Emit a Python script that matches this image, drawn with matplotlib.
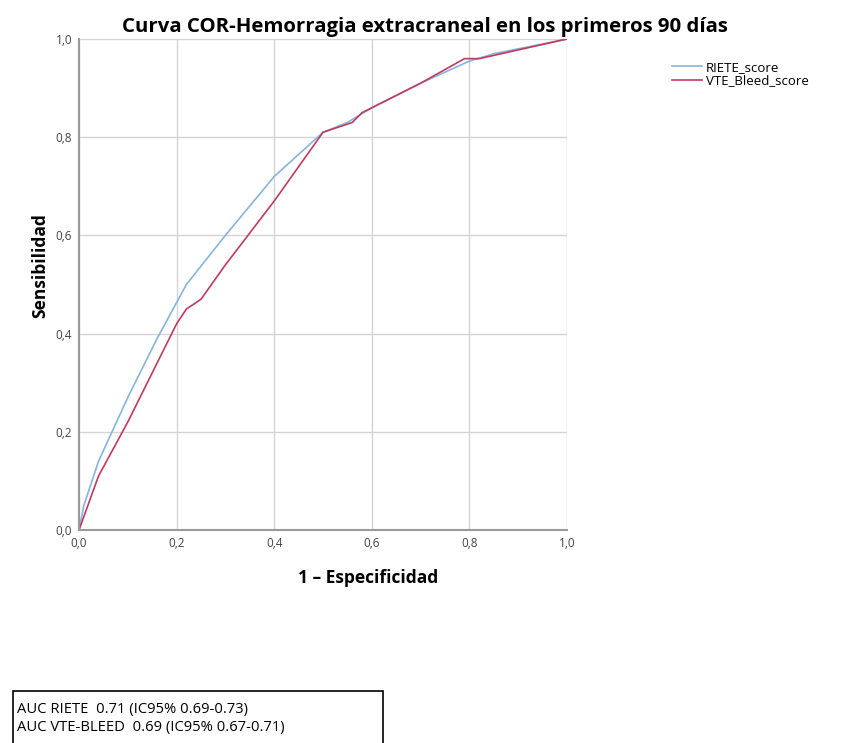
import numpy as np
import matplotlib.pyplot as plt
from matplotlib.patches import Rectangle

plt.rcParams['font.family'] = ['Open Sans', 'DejaVu Sans']

riete_x = [0.0, 0.01, 0.04, 0.10, 0.16, 0.22, 0.30, 0.40, 0.50, 0.55, 0.60, 0.70, 0.80, 0.85, 1.0]
riete_y = [0.0, 0.05, 0.14, 0.27, 0.39, 0.50, 0.60, 0.72, 0.81, 0.83, 0.86, 0.91, 0.955, 0.97, 1.0]

vte_x = [0.0, 0.04, 0.10, 0.20, 0.22, 0.25, 0.30, 0.40, 0.50, 0.56, 0.58, 0.70, 0.79, 0.82, 1.0]
vte_y = [0.0, 0.11, 0.22, 0.42, 0.45, 0.47, 0.54, 0.67, 0.81, 0.83, 0.85, 0.91, 0.96, 0.96, 1.0]

ticks = [0.0, 0.2, 0.4, 0.6, 0.8, 1.0]
tick_labels = ['0,0', '0,2', '0,4', '0,6', '0,8', '1,0']

fig = plt.figure(figsize=(8.56, 7.43), dpi=100)
ax = fig.add_axes([0.0923, 0.2867, 0.5701, 0.6608])

ax.plot(riete_x, riete_y, color='#86b4e0', lw=1.2, label='RIETE_score')
ax.plot(vte_x, vte_y, color='#c23a5e', lw=1.2, label='VTE_Bleed_score')

ax.set_xlim(0, 1)
ax.set_ylim(0, 1)
ax.set_xticks(ticks)
ax.set_xticklabels(tick_labels)
ax.set_yticks(ticks)
ax.set_yticklabels(tick_labels)
ax.tick_params(length=0, labelsize=8.5, colors='#444444', pad=5)
ax.grid(True, color='#d4d4d4', lw=1)
ax.set_axisbelow(True)
for s in ['top', 'right']:
    ax.spines[s].set_visible(False)
for s in ['left', 'bottom']:
    ax.spines[s].set_color('#9a9a9a')
    ax.spines[s].set_linewidth(1.5)

fig.text(0.497, 1 - 27 / 743, 'Curva COR-Hemorragia extracraneal en los primeros 90 días',
         fontsize=14.7, fontweight='bold', ha='center', va='center')
fig.text(368 / 856, 1 - 578 / 743, '1 – Especificidad',
         fontsize=12.5, fontweight='bold', ha='center', va='center')
fig.text(40 / 856, 1 - 266 / 743, 'Sensibilidad', rotation=90,
         fontsize=12.5, fontweight='bold', ha='center', va='center')

ax.legend(loc='upper left', bbox_to_anchor=(1.19, 0.98), frameon=False,
          fontsize=9.5, handlelength=2.3, handletextpad=0.3, labelspacing=0.05)

fig.patches.append(Rectangle((13 / 856, -0.01), 370 / 856, 59 / 743,
                             transform=fig.transFigure, fill=False,
                             edgecolor='black', lw=1.2))
fig.text(17 / 856, 1 - 710 / 743, 'AUC RIETE  0.71 (IC95% 0.69-0.73)',
         fontsize=10.6, va='center')
fig.text(17 / 856, 1 - 727 / 743, 'AUC VTE-BLEED  0.69 (IC95% 0.67-0.71)',
         fontsize=10.6, va='center')

fig.savefig('out.png', dpi=100)
